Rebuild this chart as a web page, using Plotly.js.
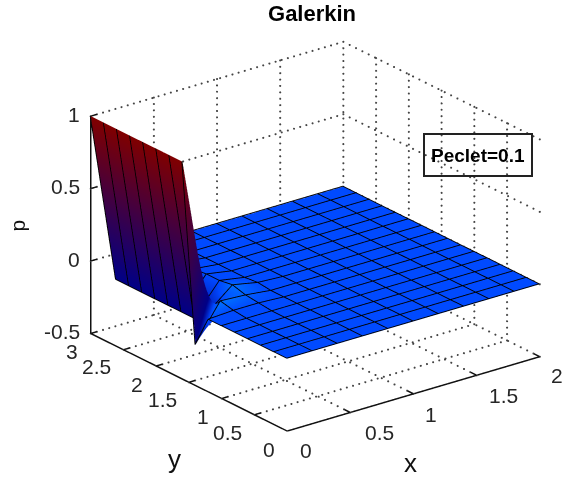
<!DOCTYPE html>
<html><head><meta charset="utf-8">
<script src="https://cdn.plot.ly/plotly-3.0.1.min.js"></script>
<style>html,body{margin:0;padding:0;background:#fff}#g{width:580px;height:477px}</style></head>
<body><div id="g"></div>
<script>
const xVals=[0,0.2,0.4,0.6,0.8,1,1.2,1.4,1.6,1.8,2];
const yVals=[0,0.2,0.4,0.6,0.8,1,1.2,1.4,1.6,1.8,2,2.2,2.4,2.6,2.8,3];
// p(y row, x column)
const pVals=[
[0,0,0,0,0,0,0,0,0,0,0],
[0,0,0,0,0,0,0,0,0,0,0],
[0,0,0,0,0,0,0,0,0,0,0],
[0,0,0,0,0,0,0,0,0,0,0],
[0,0,0,0,0,0,0,0,0,0,0],
[0,0,0,0,0,0,0,0,0,0,0],
[0,0.01,0.01,0,0,0,0,0,0,0,0],
[-0.22,0.03,0.02,0,0,0,0,0,0,0,0],
[1,-0.1,0.045,0.01,0,0,0,0,0,0,0],
[1,-0.18,0.03,0,0,0,0,0,0,0,0],
[1,-0.18,0.03,0,0,0,0,0,0,0,0],
[1,-0.18,0.02,0,0,0,0,0,0,0,0],
[1,-0.18,0.02,0,0,0,0,0,0,0,0],
[1,-0.18,0.02,0,0,0,0,0,0,0,0],
[1,-0.18,0.02,0,0,0,0,0,0,0,0],
[1,-0.18,0.02,0,0,0,0,0,0,0,0]];
// shade index per vertex: 0 light blue, 0.1 flat blue, 0.2 dark blue, 1 dark red
const shadeVals=[
[.1,.1,.1,.1,.1,.1,.1,.1,.1,.1,.1],
[.1,.1,.1,.1,.1,.1,.1,.1,.1,.1,.1],
[.1,.1,.1,.1,.1,.1,.1,.1,.1,.1,.1],
[.1,.1,.1,.1,.1,.1,.1,.1,.1,.1,.1],
[.1,.1,.1,.1,.1,.1,.1,.1,.1,.1,.1],
[.1,.1,.1,.1,.1,.1,.1,.1,.1,.1,.1],
[.1,.1,.1,.1,.1,.1,.1,.1,.1,.1,.1],
[.2,.02,.06,.1,.1,.1,.1,.1,.1,.1,.1],
[1,.2,.03,.1,.1,.1,.1,.1,.1,.1,.1],
[1,.2,.1,.1,.1,.1,.1,.1,.1,.1,.1],
[1,.2,.1,.1,.1,.1,.1,.1,.1,.1,.1],
[1,.2,.1,.1,.1,.1,.1,.1,.1,.1,.1],
[1,.2,.1,.1,.1,.1,.1,.1,.1,.1,.1],
[1,.2,.1,.1,.1,.1,.1,.1,.1,.1,.1],
[1,.2,.1,.1,.1,.1,.1,.1,.1,.1,.1],
[1,.2,.1,.1,.1,.1,.1,.1,.1,.1,.1]];
const xTicks=[0,0.5,1,1.5,2];
const yTicks=[0,0.5,1,1.5,2,2.5,3];
const zTicks=[-0.5,0,0.5,1];
const zLabels=['-0.5','0','0.5','1'];
const xShift=[19,29,18,27,17];      // label offsets off the axis
const xDrop=[-19,-20,-20,-20,-19];
const yShift=[-18,-26.5,-19,-26.5,-19,-26.5,-19];
const yDrop=[-18,-17,-18,-17,-18,-17,-18];
const titleText='Galerkin', noteText='Peclet=0.1';
const xMax=2,yMax=3,zMin=-0.5,zMax=1;
const dotStep={x:0.049,y:0.096,z:0.044}; // dotted grid pitch along each axis
const meshLift=0.004, meshPull=0.004; // keep the mesh lines just in front of the faces

const gridX=[],gridY=[],gridZ=[];
function dots(a,b){
  const len=[b[0]-a[0],b[1]-a[1],b[2]-a[2]];
  const st=len[0]?dotStep.x:len[1]?dotStep.y:dotStep.z;
  const L=Math.abs(len[0]+len[1]+len[2]),n=Math.round(L/st);
  for(let i=0;i<=n;i++){gridX.push(a[0]+len[0]*i/n);gridY.push(a[1]+len[1]*i/n);gridZ.push(a[2]+len[2]*i/n);}
}
xTicks.slice(1).forEach(x=>{dots([x,0,zMin],[x,yMax,zMin]);dots([x,yMax,zMin],[x,yMax,zMax]);});
yTicks.slice(1).forEach(y=>{dots([0,y,zMin],[xMax,y,zMin]);dots([xMax,y,zMin],[xMax,y,zMax]);});
zTicks.slice(1).forEach(z=>{dots([0,yMax,z],[xMax,yMax,z]);dots([xMax,yMax,z],[xMax,0,z]);});

const axX=[0,xMax,null,0,0,null,0,0,null],axY=[0,0,null,0,yMax,null,yMax,yMax,null],axZ=[zMin,zMin,null,zMin,zMin,null,zMin,zMax,null];
xTicks.forEach(x=>{axX.push(x,x,null);axY.push(0,0.09,null);axZ.push(zMin,zMin,null);});
yTicks.forEach(y=>{axX.push(0,0.05,null);axY.push(y,y,null);axZ.push(zMin,zMin,null);});
zTicks.forEach(z=>{axX.push(0,0.05,null);axY.push(yMax,yMax,null);axZ.push(z,z,null);});

const meshX=[],meshY=[],meshZ=[];
yVals.forEach((y,j)=>{xVals.forEach((x,i)=>{meshX.push(x-meshPull);meshY.push(y);meshZ.push(pVals[j][i]+meshLift);});meshX.push(null);meshY.push(null);meshZ.push(null);});
xVals.forEach((x,i)=>{yVals.forEach((y,j)=>{meshX.push(x-meshPull);meshY.push(y);meshZ.push(pVals[j][i]+meshLift);});meshX.push(null);meshY.push(null);meshZ.push(null);});

const labelFont={family:'Liberation Sans, Arial',size:21,color:'#262626'};
const ann=[];
xTicks.forEach((v,i)=>ann.push({x:v,y:0,z:zMin,text:String(v),showarrow:false,xshift:xShift[i],yshift:xDrop[i],font:labelFont}));
yTicks.forEach((v,i)=>ann.push({x:0,y:v,z:zMin,text:String(v),showarrow:false,xshift:yShift[i],yshift:yDrop[i],font:labelFont}));
zTicks.forEach((v,i)=>ann.push({x:0,y:yMax,z:v,text:zLabels[i],showarrow:false,xanchor:'right',xshift:-9,yshift:2,font:labelFont}));
ann.push({x:1.1,y:0,z:zMin,text:'x',showarrow:false,xshift:-16,yshift:-73,font:{family:'Liberation Sans, Arial',size:26,color:'#111'}});
ann.push({x:0,y:1.8,z:zMin,text:'y',showarrow:false,xshift:5,yshift:-86,font:{family:'Liberation Sans, Arial',size:26,color:'#111'}});
ann.push({x:0,y:yMax,z:0.25,text:'p',textangle:-90,showarrow:false,xshift:-73,yshift:-1,font:{family:'Liberation Sans, Arial',size:21,color:'#111'}});

const ax=(r,t)=>({range:r,tickvals:t,showgrid:false,zeroline:false,showbackground:false,showspikes:false,showticklabels:false,showline:false,ticks:'',title:{text:''}});
const traces=[
{type:'surface',x:xVals,y:yVals,z:pVals,surfacecolor:shadeVals,cmin:0,cmax:1,showscale:false,hoverinfo:'skip',
 colorscale:[[0,'rgb(0,125,255)'],[0.1,'rgb(0,72,255)'],[0.2,'rgb(0,0,135)'],[1,'rgb(128,0,0)']],
 lighting:{ambient:1,diffuse:0,specular:0,roughness:1,fresnel:0},
 contours:{x:{highlight:false},y:{highlight:false},z:{highlight:false}}},
{type:'scatter3d',mode:'lines',x:meshX,y:meshY,z:meshZ,line:{color:'#000',width:1.8},hoverinfo:'skip',showlegend:false,connectgaps:false},
{type:'scatter3d',mode:'markers',x:gridX,y:gridY,z:gridZ,marker:{color:'#444',size:1.2,line:{width:0}},hoverinfo:'skip',showlegend:false},
{type:'scatter3d',mode:'lines',x:axX,y:axY,z:axZ,line:{color:'#111',width:3},hoverinfo:'skip',showlegend:false,connectgaps:false}
];
const e=[-0.5637,-0.7321,0.3825],d=1.411;
const layout={width:580,height:477,margin:{l:0,r:0,t:0,b:0},paper_bgcolor:'#fff',showlegend:false,
 title:{text:titleText,x:0.538,y:0.973,xanchor:'center',yanchor:'middle',font:{family:'Liberation Sans, Arial',size:22,color:'#000',weight:'bold'}},
 scene:{domain:{x:[0.086,1],y:[0.012,0.996]},xaxis:ax([-0.006,xMax+0.002],xTicks),yaxis:ax([-0.003,yMax+0.003],yTicks),zaxis:ax([zMin-0.003,zMax+0.003],zTicks),
  aspectmode:'manual',aspectratio:{x:1.365,y:1.376,z:1.007},
  camera:{eye:{x:e[0]*d,y:e[1]*d,z:e[2]*d},center:{x:0,y:0,z:0},up:{x:0,y:0,z:1},projection:{type:'orthographic'}},annotations:ann},
 annotations:[{xref:'paper',yref:'paper',x:478/580,y:1-154.5/477,xanchor:'center',yanchor:'middle',text:noteText,showarrow:false,width:104,height:38,borderwidth:2,bordercolor:'#222',font:{family:'Liberation Sans, Arial',size:19,color:'#000',weight:'bold'}}]
};
Plotly.newPlot('g',traces,layout,{displayModeBar:false});
</script></body></html>
